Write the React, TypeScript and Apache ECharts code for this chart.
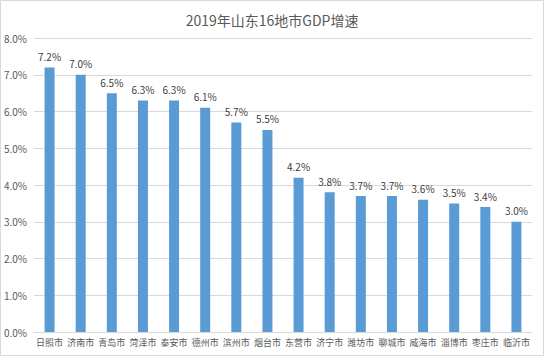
import React, { useEffect, useRef } from "react";
import * as echarts from "echarts";

const titleText = "2019年山东16地市GDP增速";
const cities = ["日照市", "济南市", "青岛市", "菏泽市", "泰安市", "德州市", "滨州市", "烟台市", "东营市", "济宁市", "潍坊市", "聊城市", "威海市", "淄博市", "枣庄市", "临沂市"];
const growth = [7.2, 7.0, 6.5, 6.3, 6.3, 6.1, 5.7, 5.5, 4.2, 3.8, 3.7, 3.7, 3.6, 3.5, 3.4, 3.0];
const yMin = 0;
const yMax = 8;
const yStep = 1;

export default function App() {
  const ref = useRef<HTMLDivElement>(null);
  useEffect(() => {
    if (!ref.current) return;
    const chart = echarts.init(ref.current, undefined, { renderer: "svg" });
    const font = "'Noto Sans CJK SC', 'Noto Sans', sans-serif";
    chart.setOption({
      animation: false,
      backgroundColor: "#ffffff",
      title: {
        text: titleText,
        left: "center",
        top: 8,
        textStyle: { fontFamily: font, fontSize: 14, fontWeight: "normal", color: "#595959" },
      },
      grid: { left: 34, right: 12, top: 38, bottom: 24, containLabel: false },
      xAxis: {
        type: "category",
        data: cities,
        axisLine: { lineStyle: { color: "#d9d9d9", width: 1 } },
        axisTick: { show: false },
        axisLabel: { fontFamily: font, fontSize: 9, color: "#595959", margin: 6, interval: 0 },
      },
      yAxis: {
        type: "value",
        min: yMin,
        max: yMax,
        interval: yStep,
        axisLine: { show: false },
        axisTick: { show: false },
        splitLine: { lineStyle: { color: "#d9d9d9", width: 1 } },
        axisLabel: {
          fontFamily: font,
          fontSize: 10,
          color: "#595959",
          margin: 7,
          formatter: (v: number) => v.toFixed(1) + "%",
        },
      },
      series: [
        {
          type: "bar",
          data: growth,
          barWidth: 10,
          itemStyle: { color: "#5b9bd5" },
          label: {
            show: true,
            position: "top",
            distance: 6,
            fontFamily: font,
            fontSize: 10,
            color: "#404040",
            formatter: (p: any) => Number(p.value).toFixed(1) + "%",
          },
        },
      ],
      graphic: [
        {
          type: "rect",
          shape: { x: 0.5, y: 0.5, width: 543, height: 355 },
          style: { fill: "none", stroke: "#d9d9d9", lineWidth: 1 },
          silent: true,
        },
      ],
    });
    return () => chart.dispose();
  }, []);
  return (
    <div
      ref={ref}
      style={{ position: "fixed", left: 0, top: 0, width: 544, height: 356 }}
    />
  );
}
